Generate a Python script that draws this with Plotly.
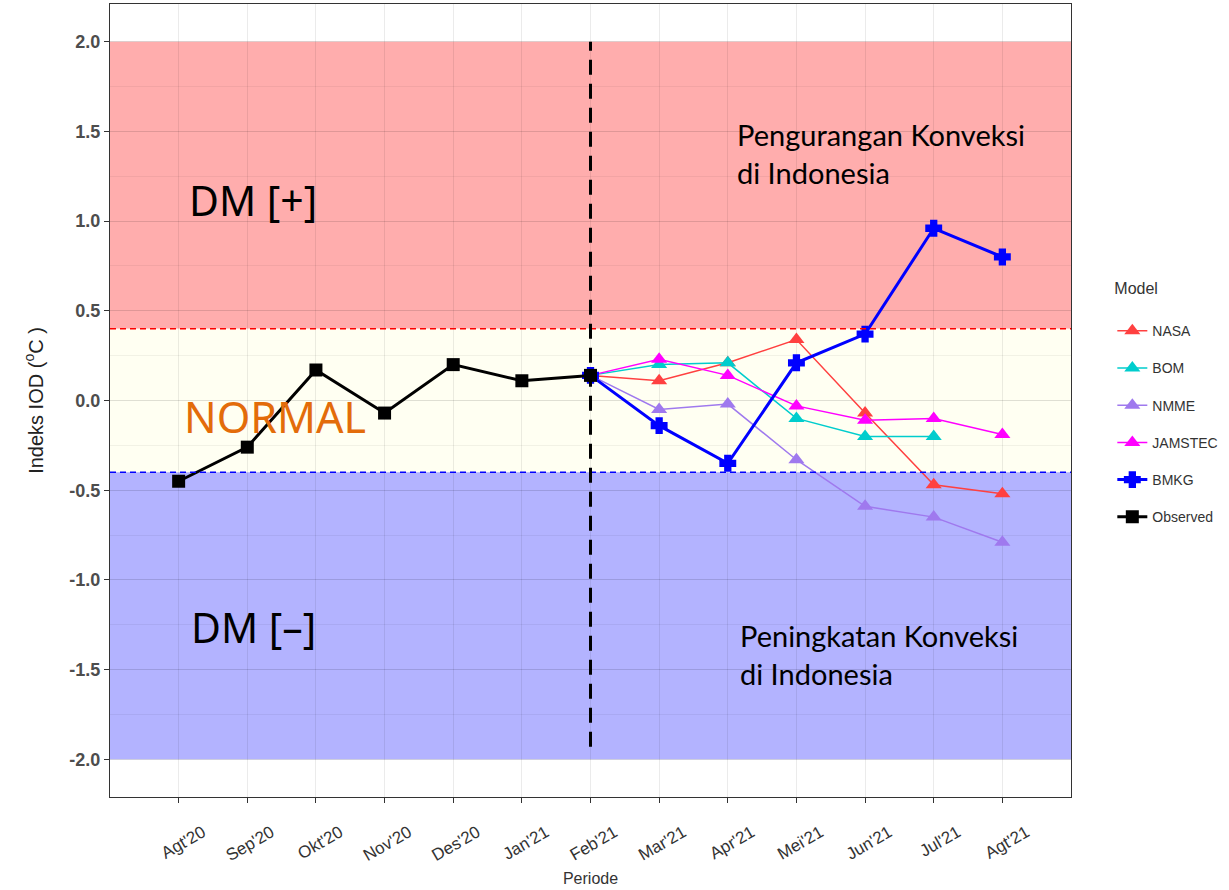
import plotly.graph_objects as go

periods = ["Agt'20", "Sep'20", "Okt'20", "Nov'20", "Des'20", "Jan'21", "Feb'21",
           "Mar'21", "Apr'21", "Mei'21", "Jun'21", "Jul'21", "Agt'21"]
fc_periods = periods[6:]

observed = [-0.45, -0.26, 0.17, -0.07, 0.20, 0.11, 0.14]
nasa = [0.14, 0.11, 0.21, 0.34, -0.07, -0.47, -0.52]
bom = [0.14, 0.20, 0.21, -0.10, -0.20, -0.20, None]
nmme = [0.14, -0.05, -0.02, -0.33, -0.59, -0.65, -0.79]
jamstec = [0.14, 0.23, 0.14, -0.03, -0.11, -0.10, -0.19]
bmkg = [0.14, -0.14, -0.35, 0.21, 0.37, 0.96, 0.80]

series = [
    ("NASA", nasa, "#FF4040", "triangle-up", 14, 1.5, 0),
    ("BOM", bom, "#00CDCD", "triangle-up", 14, 1.5, 0),
    ("NMME", nmme, "#9F79EE", "triangle-up", 14, 1.5, 0),
    ("JAMSTEC", jamstec, "#FF00FF", "triangle-up", 14, 1.5, 0),
    ("BMKG", bmkg, "#0000FF", "cross", 12, 3, 2.5),
]

fig = go.Figure()

for name, vals, col, sym, sz, lw, mlw in series:
    fig.add_trace(go.Scatter(
        x=fc_periods, y=vals, mode="lines+markers", name=name,
        legendgroup=name,
        line=dict(color=col, width=lw),
        marker=dict(color=col, symbol=sym, size=sz, line=dict(color=col, width=mlw)),
        connectgaps=False,
    ))

fig.add_trace(go.Scatter(
    x=periods[:7], y=observed, mode="lines+markers", name="Observed",
    legendgroup="Observed",
    line=dict(color="black", width=3),
    marker=dict(color="black", symbol="square", size=13),
))

# background bands (opaque, below a translucent grid)
fig.add_shape(type="rect", xref="paper", x0=0, x1=1, y0=0.4, y1=2.0,
              fillcolor="#FFADAD", line_width=0, layer="below")
fig.add_shape(type="rect", xref="paper", x0=0, x1=1, y0=-0.4, y1=0.4,
              fillcolor="#FFFFF2", line_width=0, layer="below")
fig.add_shape(type="rect", xref="paper", x0=0, x1=1, y0=-2.0, y1=-0.4,
              fillcolor="#B3B3FF", line_width=0, layer="below")
fig.add_shape(type="line", xref="paper", x0=0, x1=1, y0=0.4, y1=0.4,
              line=dict(color="#FF0000", width=1.5, dash="6px,4px"))
fig.add_shape(type="line", xref="paper", x0=0, x1=1, y0=-0.4, y1=-0.4,
              line=dict(color="#0000FF", width=1.5, dash="6px,4px"))
fig.add_shape(type="line", x0=6, x1=6, y0=-1.93, y1=2.0,
              line=dict(color="black", width=3, dash="15px,9px"))

ann_font = "Noto Sans"
fig.add_annotation(x=1.09, y=1.12, text="DM [+]", showarrow=False,
                   font=dict(family=ann_font, size=41, color="black"))
fig.add_annotation(x=1.41, y=-0.09, text="NORMAL", showarrow=False,
                   font=dict(family=ann_font, size=43, color="#E36C0A"))
fig.add_annotation(x=1.09, y=-1.26, text="DM [\u2013]", showarrow=False,
                   font=dict(family=ann_font, size=41, color="black"))
fig.add_annotation(x=8.11, y=1.375, xanchor="left", align="left", showarrow=False,
                   text="Pengurangan Konveksi<br>di Indonesia",
                   font=dict(family="Lato", size=29, color="black"))
fig.add_annotation(x=8.155, y=-1.414, xanchor="left", align="left", showarrow=False,
                   text="Peningkatan Konveksi<br>di Indonesia",
                   font=dict(family="Lato", size=29, color="black"))

fig.update_layout(
    width=1229, height=890,
    margin=dict(l=110, r=158, t=4, b=93),
    paper_bgcolor="white", plot_bgcolor="white",
    font=dict(family="Liberation Sans, Arial", color="#333333"),
    legend=dict(
        title=dict(text="Model<br> ", font=dict(size=16, color="#333333")),
        x=1.043, xanchor="left", y=0.66, yanchor="top",
        font=dict(size=14, color="#333333"),
        tracegroupgap=16, bgcolor="rgba(0,0,0,0)",
    ),
)

fig.update_xaxes(
    type="category", categoryorder="array", categoryarray=periods,
    range=[-1, 13],
    showgrid=True, gridcolor="rgba(0,0,0,0.08)", gridwidth=1.2,
    showline=True, mirror=True, linecolor="#333333", linewidth=1.2,
    ticks="outside", ticklen=5, tickcolor="#333333",
    tickangle=-30, ticklabelshift=24, ticklabelstandoff=13,
    tickfont=dict(size=17, color="#333333"),
    title=dict(text="Periode", font=dict(size=16, color="#333333"), standoff=8),
    zeroline=False,
)
fig.update_yaxes(
    range=[-2.21, 2.21],
    tickvals=[-2.0, -1.5, -1.0, -0.5, 0.0, 0.5, 1.0, 1.5, 2.0],
    ticktext=["-2.0", "-1.5", "-1.0", "-0.5", "0.0", "0.5", "1.0", "1.5", "2.0"],
    showgrid=True, gridcolor="rgba(0,0,0,0.08)", gridwidth=1.2,
    minor=dict(dtick=0.25, tick0=0, showgrid=True, gridcolor="rgba(0,0,0,0.05)", gridwidth=0.8),
    showline=True, mirror=True, linecolor="#333333", linewidth=1.2,
    ticks="outside", ticklen=5, tickcolor="#333333",
    tickfont=dict(size=18, color="#4D4D4D", weight="bold"),
    title=dict(text="Indeks IOD (<sup>o</sup>C )", font=dict(size=20, color="#222222"), standoff=20),
    zeroline=False,
)

fig.write_html("out.html")
